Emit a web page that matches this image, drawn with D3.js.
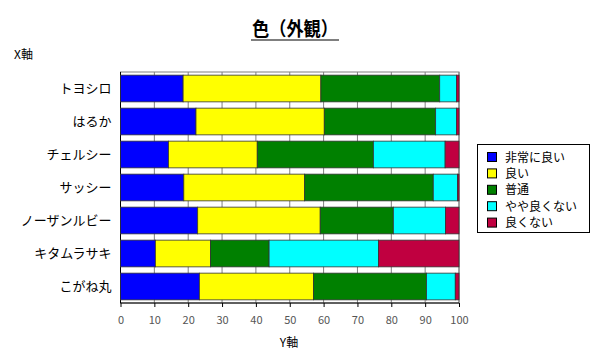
<!DOCTYPE html>
<html><head><meta charset="utf-8">
<script src="https://cdn.jsdelivr.net/npm/d3@7"></script>
<style>body{margin:0;background:#fff}svg{display:block}text{font-family:"Noto Sans CJK JP",sans-serif}</style>
</head><body><svg id="c" width="600" height="354"></svg>
<script>
const categories = ["トヨシロ","はるか","チェルシー","サッシー","ノーザンルビー","キタムラサキ","こがね丸"];
const seriesNames = ["非常に良い","良い","普通","やや良くない","良くない"];
const colors = ["#0000FF","#FFFF00","#008000","#00FFFF","#C00040"];
const veryGood = [18.5,22.3,14.2,18.7,22.8,10.3,23.3];
const good     = [40.7,37.9,26.2,35.7,36.2,16.3,33.7];
const normal   = [35.1,32.9,34.3,38.0,21.6,17.3,33.4];
const slightlyBad = [5.0,6.2,21.2,7.2,15.4,32.3,8.5];
const bad      = [0.7,0.7,4.1,0.4,4.0,23.8,1.1];
const xTicks = [0,10,20,30,40,50,60,70,80,90,100];

const svg = d3.select("#c");
const L=120.5, R=459, T=72, B=303;
const x = d3.scaleLinear().domain([0,100]).range([L,R]);
const y = d3.scaleBand().domain(categories).range([T,B]).paddingInner(0.19).paddingOuter(0.095);

const rows = categories.map((c,i)=>({cat:c, v:[veryGood[i],good[i],normal[i],slightlyBad[i],bad[i]]}));
const stack = d3.stack().keys([0,1,2,3,4]).value((d,k)=>d.v[k]);
const layers = stack(rows);

// gridlines
svg.append("g").selectAll("line").data(xTicks).join("line")
  .attr("x1",d=>x(d)).attr("x2",d=>x(d)).attr("y1",T).attr("y2",B)
  .attr("stroke","#808080").attr("stroke-width",1);
// frame
svg.append("rect").attr("x",L).attr("y",T).attr("width",R-L).attr("height",B-T)
  .attr("fill","none").attr("stroke","#808080");
svg.append("line").attr("x1",L).attr("x2",L).attr("y1",T).attr("y2",B).attr("stroke","#000");
svg.append("line").attr("x1",L).attr("x2",R).attr("y1",B).attr("y2",B).attr("stroke","#000");

layers.forEach((layer,k)=>{
  svg.append("g").selectAll("rect").data(layer).join("rect")
    .attr("x",d=>x(d[0])).attr("width",d=>x(d[1])-x(d[0]))
    .attr("y",d=>y(d.data.cat)).attr("height",y.bandwidth())
    .attr("fill",colors[k]).attr("stroke","#333").attr("stroke-width",0.8);
});

// x axis
const xa = svg.append("g").attr("transform",`translate(0,${B})`)
  .call(d3.axisBottom(x).tickValues(xTicks).tickSize(4).tickPadding(9));
xa.select(".domain").remove();
xa.selectAll("line").attr("stroke","#000");
xa.selectAll("text").attr("font-size",11).attr("fill","#555").attr("font-family","Arial, sans-serif");

// y axis labels
const ya = svg.append("g").attr("transform",`translate(${L},0)`)
  .call(d3.axisLeft(y).tickSize(0).tickPadding(9));
ya.select(".domain").remove();
ya.selectAll("text").attr("font-size",13).attr("fill","#000");

// title
svg.append("text").attr("x",295).attr("y",36).attr("text-anchor","middle")
  .attr("font-size",19).attr("font-weight","bold")
  .attr("textLength",86).attr("lengthAdjust","spacingAndGlyphs").text("色（外観）");
svg.append("line").attr("x1",251).attr("x2",339).attr("y1",40).attr("y2",40).attr("stroke","#000").attr("stroke-width",1.2);
svg.append("text").attr("x",14).attr("y",59).attr("font-size",12).text("X軸");
svg.append("text").attr("x",289).attr("y",347).attr("text-anchor","middle").attr("font-size",12).text("Y軸");

// legend
const lg = svg.append("g");
lg.append("rect").attr("x",477.5).attr("y",144.5).attr("width",112).attr("height",88)
  .attr("fill","#fff").attr("stroke","#000");
seriesNames.forEach((n,i)=>{
  const cy = 157 + i*16.4;
  lg.append("rect").attr("x",487.5).attr("y",cy-4.5).attr("width",9).attr("height",9)
    .attr("fill",colors[i]).attr("stroke","#000");
  lg.append("text").attr("x",505).attr("y",cy+4.5).attr("font-size",12).text(n);
});
</script></body></html>
